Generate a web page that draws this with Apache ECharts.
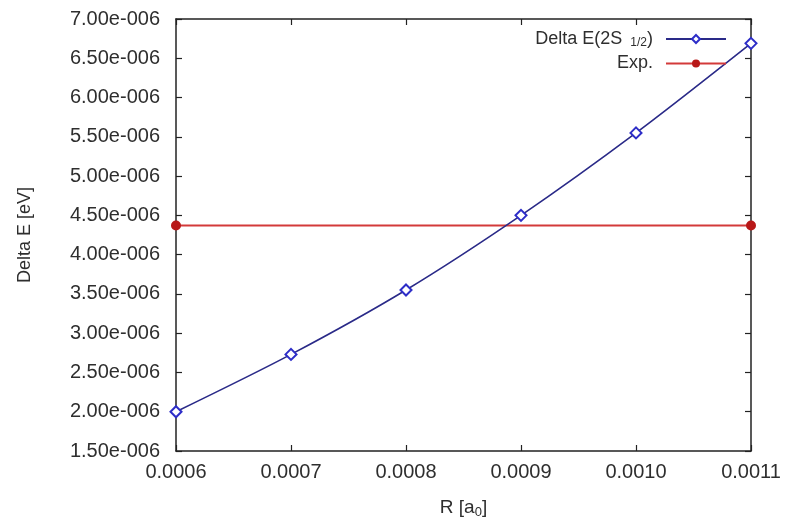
<!DOCTYPE html>
<html>
<head>
<meta charset="utf-8">
<script src="https://cdn.jsdelivr.net/npm/echarts@6/dist/echarts.min.js"></script>
<style>html,body{margin:0;padding:0;background:#fff}#c{width:786px;height:527px}</style>
</head>
<body>
<div id="c"></div>
<script>
var xValues = [0.0006, 0.0007, 0.0008, 0.0009, 0.0010, 0.0011];
var deltaE = [2.00e-6, 2.73e-6, 3.55e-6, 4.50e-6, 5.55e-6, 6.69e-6];
var expValue = 4.37e-6;
var expX = [0.0006, 0.0011];
var xMin = 0.0006, xMax = 0.0011, xStep = 0.0001;
var yMin = 1.5e-6, yMax = 7.0e-6, yStep = 0.5e-6;

function fmtY(v) {
  var s = v.toExponential(2);
  var parts = s.split('e');
  var exp = parseInt(parts[1], 10);
  var sign = exp < 0 ? '-' : '+';
  var e = String(Math.abs(exp));
  while (e.length < 3) e = '0' + e;
  return parts[0] + 'e' + sign + e;
}
function fmtX(v) { return v.toFixed(4); }

var font = '"Liberation Sans", Arial, sans-serif';
var txt = '#2e2e2e';

var chart = echarts.init(document.getElementById('c'));
var axisLine = { show: true, lineStyle: { color: '#222', width: 1.5 } };
var tick = { show: true, inside: true, length: 6, lineStyle: { color: '#222', width: 1.2 } };

chart.setOption({
  animation: false,
  backgroundColor: '#fff',
  grid: { left: 176, right: 35, top: 19, bottom: 76, containLabel: false },
  legend: {
    orient: 'vertical',
    right: 54,
    top: 25,
    align: 'right',
    itemWidth: 60,
    itemHeight: 10,
    itemGap: 6,
    textStyle: {
      fontFamily: font, fontSize: 18, color: txt, padding: [0, 8, 0, 0],
      rich: { sub: { fontSize: 12, verticalAlign: 'bottom', padding: [7, 0, 0, 3], fontFamily: font, color: txt } }
    },
    formatter: function (name) {
      if (name === 'Delta E') return 'Delta E(2S {sub|1/2})';
      return name;
    },
    data: ['Delta E', 'Exp.']
  },
  xAxis: [{
    type: 'value', min: xMin, max: xMax, interval: xStep,
    axisLine: axisLine, axisTick: tick, splitLine: { show: false },
    axisLabel: { formatter: fmtX, fontFamily: font, fontSize: 20, color: txt, margin: 11 },
    name: 'R [a{sub|0}]', nameLocation: 'middle', nameGap: 46,
    nameTextStyle: { fontFamily: font, fontSize: 19, color: txt,
      rich: { sub: { fontSize: 13, verticalAlign: 'bottom', padding: [9, 0, 0, 0], fontFamily: font, color: txt } } }
  }, {
    type: 'value', position: 'top', min: xMin, max: xMax, interval: xStep,
    axisLine: axisLine, axisTick: tick, splitLine: { show: false }, axisLabel: { show: false }
  }],
  yAxis: [{
    type: 'value', min: yMin, max: yMax, interval: yStep,
    axisLine: axisLine, axisTick: tick, splitLine: { show: false },
    axisLabel: { formatter: fmtY, fontFamily: font, fontSize: 20, color: txt, margin: 16 },
    name: 'Delta E [eV]', nameLocation: 'middle', nameGap: 142, nameRotate: 90,
    nameTextStyle: { fontFamily: font, fontSize: 18, color: txt }
  }, {
    type: 'value', position: 'right', min: yMin, max: yMax, interval: yStep,
    axisLine: axisLine, axisTick: tick, splitLine: { show: false }, axisLabel: { show: false }
  }],
  series: [{
    name: 'Delta E', type: 'line', smooth: 0.3,
    data: xValues.map(function (x, i) { return [x, deltaE[i]]; }),
    symbol: 'emptyDiamond', symbolSize: 11,
    lineStyle: { color: '#2a2a88', width: 1.6 },
    itemStyle: { color: '#2d2dc8', borderColor: '#2d2dc8', borderWidth: 1.6 },
    z: 3
  }, {
    name: 'Exp.', type: 'line',
    data: expX.map(function (x) { return [x, expValue]; }),
    symbol: 'circle', symbolSize: 10,
    lineStyle: { color: '#d33a3a', width: 2 },
    itemStyle: { color: '#b81818' },
    z: 2
  }]
});
</script>
</body>
</html>
